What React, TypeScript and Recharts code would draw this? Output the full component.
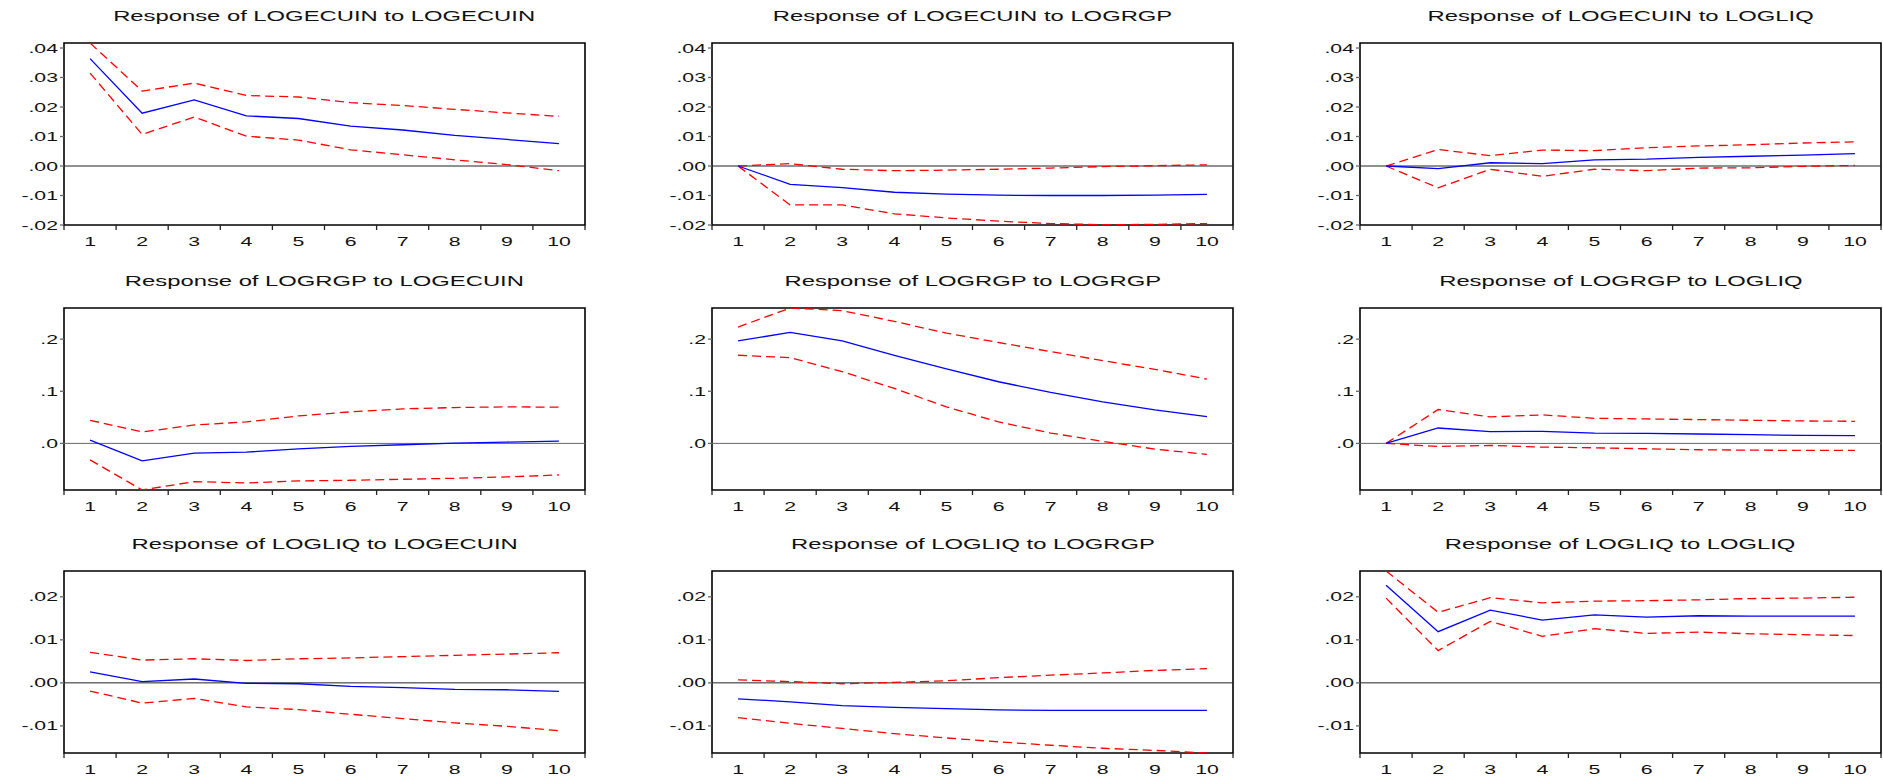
import { LineChart, Line, XAxis, YAxis, ReferenceLine, ReferenceArea } from "recharts";

// impulse horizon
const periods = [1, 2, 3, 4, 5, 6, 7, 8, 9, 10];

// response of LOGECUIN
const ecuinEcuin = [0.0364, 0.0179, 0.0224, 0.017, 0.0161, 0.0135, 0.0122, 0.0104, 0.009, 0.0076];
const ecuinEcuinHi = [0.0417, 0.0254, 0.0281, 0.0239, 0.0234, 0.0215, 0.0205, 0.0192, 0.018, 0.0168];
const ecuinEcuinLo = [0.0315, 0.0107, 0.0166, 0.0101, 0.0088, 0.0055, 0.0038, 0.0021, 0.0005, -0.0016];
const ecuinRgp = [0, -0.0062, -0.0073, -0.0089, -0.0095, -0.0099, -0.01, -0.01, -0.0099, -0.0096];
const ecuinRgpHi = [0, 0.0008, -0.0011, -0.0016, -0.0014, -0.0011, -0.0007, -0.0002, 0.0001, 0.0004];
const ecuinRgpLo = [0, -0.0132, -0.0132, -0.0162, -0.0176, -0.0187, -0.0195, -0.0199, -0.0198, -0.0195];
const ecuinLiq = [0, -0.0009, 0.0011, 0.0008, 0.0021, 0.0023, 0.0029, 0.0033, 0.0037, 0.0042];
const ecuinLiqHi = [0, 0.0056, 0.0035, 0.0054, 0.0052, 0.0062, 0.0068, 0.0072, 0.0078, 0.0082];
const ecuinLiqLo = [0, -0.0074, -0.0011, -0.0035, -0.0011, -0.0016, -0.0007, -0.0006, -0.0001, 0.0002];

// response of LOGRGP
const rgpEcuin = [0.0064, -0.0334, -0.0186, -0.0167, -0.0103, -0.0058, -0.0026, 0.0006, 0.0026, 0.0045];
const rgpEcuinHi = [0.0444, 0.0219, 0.0354, 0.0412, 0.0527, 0.0605, 0.0662, 0.0688, 0.0701, 0.0695];
const rgpEcuinLo = [-0.0315, -0.0894, -0.0733, -0.0759, -0.072, -0.0707, -0.0688, -0.0669, -0.0643, -0.0605];
const rgpRgp = [0.1968, 0.2129, 0.1968, 0.1691, 0.1428, 0.1183, 0.0977, 0.0797, 0.0643, 0.0514];
const rgpRgpHi = [0.2232, 0.2598, 0.2547, 0.2341, 0.2116, 0.1936, 0.1762, 0.1588, 0.1421, 0.1235];
const rgpRgpLo = [0.1691, 0.1646, 0.1376, 0.1055, 0.0701, 0.0412, 0.0199, 0.0039, -0.0109, -0.0212];
const rgpLiq = [0, 0.0296, 0.0225, 0.0232, 0.0199, 0.0193, 0.018, 0.0167, 0.0154, 0.0148];
const rgpLiqHi = [0, 0.065, 0.0508, 0.0547, 0.0482, 0.0469, 0.0457, 0.0444, 0.0431, 0.0424];
const rgpLiqLo = [0, -0.0058, -0.0039, -0.0071, -0.0084, -0.0103, -0.0122, -0.0129, -0.0135, -0.0135];

// response of LOGLIQ
const liqEcuin = [0.00255, 0.0003, 0.0009, -0.0001, -0.0002, -0.0008, -0.0011, -0.0015, -0.0016, -0.002];
const liqEcuinHi = [0.0071, 0.0053, 0.0056, 0.0052, 0.0056, 0.0058, 0.0061, 0.0064, 0.0067, 0.007];
const liqEcuinLo = [-0.0019, -0.0047, -0.0036, -0.0056, -0.0062, -0.0073, -0.0083, -0.0093, -0.0101, -0.0111];
const liqRgp = [-0.0037, -0.0044, -0.0053, -0.0057, -0.006, -0.0063, -0.0064, -0.0064, -0.0064, -0.0064];
const liqRgpHi = [0.0007, 0.0003, -0.0002, 0.0001, 0.0005, 0.0012, 0.0018, 0.0023, 0.0029, 0.0033];
const liqRgpLo = [-0.0081, -0.0094, -0.0106, -0.0118, -0.0128, -0.0137, -0.0145, -0.0152, -0.0157, -0.0163];
const liqLiq = [0.0227, 0.0119, 0.0169, 0.0146, 0.0158, 0.0153, 0.0156, 0.0155, 0.0155, 0.0155];
const liqLiqHi = [0.026, 0.0164, 0.0198, 0.0186, 0.019, 0.0191, 0.0193, 0.0196, 0.0197, 0.0199];
const liqLiqLo = [0.0197, 0.0075, 0.0143, 0.0108, 0.0126, 0.0115, 0.0118, 0.0114, 0.0112, 0.011];

// axis scales, one per row
const row1Domain = [-0.02, 0.0417];
const row1Ticks = [-0.02, -0.01, 0, 0.01, 0.02, 0.03, 0.04];
const row2Domain = [-0.0894, 0.2598];
const row2Ticks = [0, 0.1, 0.2];
const row3Domain = [-0.0163, 0.026];
const row3Ticks = [-0.01, 0, 0.01, 0.02];

const xTicks = [...periods.flatMap((p) => [p - 0.5, p]), periods[periods.length - 1] + 0.5];

const FONT = "'Liberation Sans', Arial, sans-serif";
const STRETCH = 1.7;
const BOX_W = 521;
const BOX_H = 182;
const colLeft = [64, 712, 1360];
const rowTop = [43, 308, 571];

const fmtTick = (v: number, d: number) => (v < 0 ? "-" : "") + Math.abs(v).toFixed(d).replace(/^0/, "");

const XTick = ({ x, y, payload }: any) => {
  const v = payload.value;
  if (!Number.isInteger(v)) {
    return <line x1={x} x2={x} y1={y} y2={y + 5} stroke="#222" strokeWidth={1.3} />;
  }
  return (
    <text transform={`translate(${x},${y + 21}) scale(${STRETCH},1)`} textAnchor="middle" fontSize={12.5} fontFamily={FONT} fill="#111">
      {v}
    </text>
  );
};

const makeYTick = (d: number) => ({ x, y, payload }: any) => (
  <text transform={`translate(${x},${y}) scale(${STRETCH},1)`} textAnchor="end" dy="0.36em" fontSize={12.5} fontFamily={FONT} fill="#111">
    {fmtTick(payload.value, d)}
  </text>
);

type PanelProps = {
  title: string;
  resp: number[];
  hi: number[];
  lo: number[];
  domain: number[];
  ticks: number[];
  decimals: number;
  col: number;
  row: number;
  zeroColor: string;
};

function Panel({ title, resp, hi, lo, domain, ticks, decimals, col, row, zeroColor }: PanelProps) {
  const data = periods.map((p, i) => ({ period: p, resp: resp[i], hi: hi[i], lo: lo[i] }));
  const L = colLeft[col];
  const T = rowTop[row];
  return (
    <>
      <div
        style={{
          position: "absolute",
          left: L,
          top: T - 37,
          width: BOX_W,
          height: 20,
          lineHeight: "20px",
          textAlign: "center",
          fontFamily: FONT,
          fontSize: 14,
          color: "#111",
          whiteSpace: "nowrap",
        }}
      >
        <span style={{ display: "inline-block", transform: `scaleX(${STRETCH})` }}>{title}</span>
      </div>
      <div style={{ position: "absolute", left: L - 60, top: T - 5 }}>
        <LineChart width={60 + BOX_W + 3} height={5 + BOX_H + 30} data={data} margin={{ top: 5, right: 3, left: 0, bottom: 0 }}>
          <XAxis
            dataKey="period"
            type="number"
            domain={[0.5, 10.5]}
            ticks={xTicks}
            interval={0}
            tickLine={false}
            axisLine={false}
            tickSize={0}
            tickMargin={0}
            height={30}
            tick={<XTick />}
          />
          <YAxis
            type="number"
            domain={domain}
            allowDataOverflow
            ticks={ticks}
            interval={0}
            width={60}
            axisLine={false}
            tickSize={4}
            tickMargin={2}
            tickLine={{ stroke: "#666", strokeWidth: 1.3 }}
            tick={makeYTick(decimals)}
          />
          <ReferenceLine y={0} stroke={zeroColor} strokeWidth={1} />
          <Line dataKey="hi" stroke="#ff0000" strokeWidth={1.3} strokeDasharray="9 5" dot={false} isAnimationActive={false} />
          <Line dataKey="lo" stroke="#ff0000" strokeWidth={1.3} strokeDasharray="9 5" dot={false} isAnimationActive={false} />
          <Line dataKey="resp" stroke="#0000ff" strokeWidth={1.3} dot={false} isAnimationActive={false} />
          <ReferenceArea x1={0.5} x2={10.5} y1={domain[0]} y2={domain[1]} fill="none" stroke="#000" strokeWidth={1.6} />
        </LineChart>
      </div>
    </>
  );
}

export default function App() {
  return (
    <div style={{ position: "absolute", left: 0, top: 0, width: 1883, height: 777, overflow: "hidden", background: "#fff" }}>
      <Panel title="Response of LOGECUIN to LOGECUIN" resp={ecuinEcuin} hi={ecuinEcuinHi} lo={ecuinEcuinLo} domain={row1Domain} ticks={row1Ticks} decimals={2} col={0} row={0} zeroColor="#222" />
      <Panel title="Response of LOGECUIN to LOGRGP" resp={ecuinRgp} hi={ecuinRgpHi} lo={ecuinRgpLo} domain={row1Domain} ticks={row1Ticks} decimals={2} col={1} row={0} zeroColor="#222" />
      <Panel title="Response of LOGECUIN to LOGLIQ" resp={ecuinLiq} hi={ecuinLiqHi} lo={ecuinLiqLo} domain={row1Domain} ticks={row1Ticks} decimals={2} col={2} row={0} zeroColor="#222" />
      <Panel title="Response of LOGRGP to LOGECUIN" resp={rgpEcuin} hi={rgpEcuinHi} lo={rgpEcuinLo} domain={row2Domain} ticks={row2Ticks} decimals={1} col={0} row={1} zeroColor="#666" />
      <Panel title="Response of LOGRGP to LOGRGP" resp={rgpRgp} hi={rgpRgpHi} lo={rgpRgpLo} domain={row2Domain} ticks={row2Ticks} decimals={1} col={1} row={1} zeroColor="#666" />
      <Panel title="Response of LOGRGP to LOGLIQ" resp={rgpLiq} hi={rgpLiqHi} lo={rgpLiqLo} domain={row2Domain} ticks={row2Ticks} decimals={1} col={2} row={1} zeroColor="#666" />
      <Panel title="Response of LOGLIQ to LOGECUIN" resp={liqEcuin} hi={liqEcuinHi} lo={liqEcuinLo} domain={row3Domain} ticks={row3Ticks} decimals={2} col={0} row={2} zeroColor="#222" />
      <Panel title="Response of LOGLIQ to LOGRGP" resp={liqRgp} hi={liqRgpHi} lo={liqRgpLo} domain={row3Domain} ticks={row3Ticks} decimals={2} col={1} row={2} zeroColor="#222" />
      <Panel title="Response of LOGLIQ to LOGLIQ" resp={liqLiq} hi={liqLiqHi} lo={liqLiqLo} domain={row3Domain} ticks={row3Ticks} decimals={2} col={2} row={2} zeroColor="#222" />
    </div>
  );
}
